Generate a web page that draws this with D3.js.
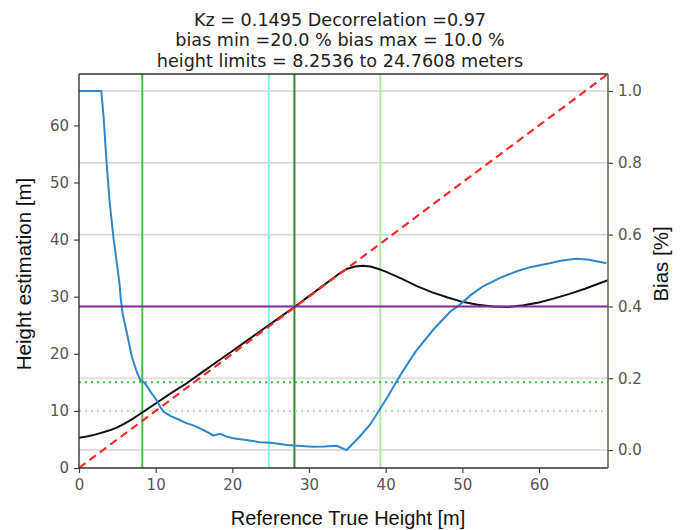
<!DOCTYPE html>
<html>
<head>
<meta charset="utf-8">
<script src="https://cdn.jsdelivr.net/npm/d3@7"></script>
<style>
  html, body { margin: 0; padding: 0; background: #fff; }
  svg { display: block; }
</style>
</head>
<body>
<svg id="chart" width="681" height="530"></svg>
<script>
// Title lines
const titleLines = [
  "Kz = 0.1495 Decorrelation =0.97",
  "bias min =20.0 % bias max = 10.0 %",
  "height limits = 8.2536 to 24.7608 meters"
];

// Ticks
const xTicks = [0, 10, 20, 30, 40, 50, 60];
const yLeftTicks = [0, 10, 20, 30, 40, 50, 60];
const yRightTicks = [0.0, 0.2, 0.4, 0.6, 0.8, 1.0];

// Estimated height vs reference height (left axis, metres)
const heightX = [0, 1, 2, 3, 4, 5, 6, 7, 8, 9, 10, 12, 14, 16, 18, 20, 22, 24, 26, 28, 30, 32, 34, 35, 36, 37, 38, 39, 40, 42, 44, 46, 48, 50, 52, 54, 56, 58, 60, 62, 64, 66, 68, 69];
const heightEst = [5.3, 5.5, 5.8, 6.2, 6.6, 7.1, 7.8, 8.6, 9.5, 10.4, 11.3, 13.1, 14.8, 16.7, 18.6, 20.5, 22.4, 24.3, 26.2, 28.1, 30.1, 32.1, 34.1, 34.9, 35.3, 35.4, 35.3, 34.9, 34.4, 33.2, 31.9, 30.8, 29.9, 29.1, 28.6, 28.3, 28.2, 28.5, 29.0, 29.7, 30.5, 31.4, 32.4, 32.9];

// Bias vs reference height (right axis, fraction)
const biasX = [0, 2.9, 3.2, 3.6, 4.0, 4.5, 5.0, 5.3, 5.45, 5.7, 6.0, 6.4, 6.9, 7.5, 8.0, 8.4, 8.8, 9.4, 10.1, 10.6, 11.0, 11.9, 13, 14, 15, 15.8, 17, 17.5, 18.4, 19.2, 20.1, 22, 23.6, 25, 27.1, 28.5, 30.5, 32, 33.6, 34.9, 36.6, 38, 39.2, 40.3, 41.4, 42.7, 44, 46.2, 48.4, 49.7, 51, 52.7, 55, 57.1, 59, 61.4, 63, 64.9, 66.5, 68.8];
const biasVal = [1.0, 1.0, 0.93, 0.80, 0.69, 0.59, 0.51, 0.46, 0.42, 0.38, 0.35, 0.31, 0.26, 0.22, 0.195, 0.19, 0.18, 0.16, 0.14, 0.12, 0.107, 0.095, 0.085, 0.075, 0.068, 0.06, 0.047, 0.04, 0.045, 0.038, 0.033, 0.027, 0.022, 0.02, 0.014, 0.012, 0.009, 0.01, 0.012, 0.0, 0.037, 0.072, 0.112, 0.15, 0.19, 0.235, 0.277, 0.335, 0.385, 0.405, 0.43, 0.456, 0.48, 0.498, 0.51, 0.52, 0.528, 0.533, 0.53, 0.52];

// Reference lines
const vLines = [
  { x: 8.2536, color: "#4cbb4c" },
  { x: 24.7608, color: "#7ff5f0" },
  { x: 28.1, color: "#2e8b2e" },
  { x: 39.3, color: "#a8f0a0" }
];
const hDotted = [
  { y: 15, color: "#33c233" },
  { y: 10, color: "#a4ee9c" }
];
const purpleBias = 0.4;
const xMax = 69;
const yMax = 69;

const svg = d3.select("#chart");
const margin = { left: 79, right: 73, top: 74, bottom: 62 };
const W = 681, H = 530;
const pw = W - margin.left - margin.right;
const ph = H - margin.top - margin.bottom;

const x = d3.scaleLinear().domain([0, xMax]).range([margin.left, margin.left + pw]);
const yL = d3.scaleLinear().domain([0, yMax]).range([margin.top + ph, margin.top]);
const yR = d3.scaleLinear().domain([-0.05, 1.0472]).range([margin.top + ph, margin.top]);

svg.append("defs").append("clipPath").attr("id", "plotclip")
  .append("rect").attr("x", margin.left).attr("y", margin.top).attr("width", pw).attr("height", ph);

const plot = svg.append("g").attr("clip-path", "url(#plotclip)");

// grid from the bias axis
plot.selectAll(".grid").data(yRightTicks).enter().append("line")
  .attr("x1", margin.left).attr("x2", margin.left + pw)
  .attr("y1", d => yR(d)).attr("y2", d => yR(d))
  .attr("stroke", "#d6d6d6").attr("stroke-width", 1.6);

// vertical marker lines
plot.selectAll(".vl").data(vLines).enter().append("line")
  .attr("x1", d => x(d.x)).attr("x2", d => x(d.x))
  .attr("y1", margin.top).attr("y2", margin.top + ph)
  .attr("stroke", d => d.color).attr("stroke-width", 2);

// dotted horizontal limits
plot.selectAll(".hd").data(hDotted).enter().append("line")
  .attr("x1", margin.left).attr("x2", margin.left + pw)
  .attr("y1", d => yL(d.y)).attr("y2", d => yL(d.y))
  .attr("stroke", d => d.color).attr("stroke-width", 2)
  .attr("stroke-dasharray", "2,4");

// estimated height curve
const lineL = d3.line().x(d => x(d[0])).y(d => yL(d[1]));
plot.append("path").datum(heightX.map((v, i) => [v, heightEst[i]]))
  .attr("d", lineL).attr("fill", "none")
  .attr("stroke", "#111").attr("stroke-width", 2);

// 1:1 reference
plot.append("path").datum([[0, 0], [xMax, xMax]])
  .attr("d", lineL).attr("fill", "none")
  .attr("stroke", "#ff2a2a").attr("stroke-width", 2.2)
  .attr("stroke-dasharray", "8,5");

// bias curve
const lineR = d3.line().x(d => x(d[0])).y(d => yR(d[1]));
plot.append("path").datum(biasX.map((v, i) => [v, biasVal[i]]))
  .attr("d", lineR).attr("fill", "none")
  .attr("stroke", "#2f86cc").attr("stroke-width", 2);

// bias threshold
plot.append("line")
  .attr("x1", margin.left).attr("x2", margin.left + pw)
  .attr("y1", yR(purpleBias)).attr("y2", yR(purpleBias))
  .attr("stroke", "#8a2a9a").attr("stroke-width", 2);

// axes
const tickFont = "DejaVu Sans, sans-serif";
const gx = svg.append("g").attr("transform", `translate(0,${margin.top + ph})`)
  .call(d3.axisBottom(x).tickValues(xTicks).tickFormat(d3.format("d")).tickSize(5).tickPadding(6));
const gl = svg.append("g").attr("transform", `translate(${margin.left},0)`)
  .call(d3.axisLeft(yL).tickValues(yLeftTicks).tickFormat(d3.format("d")).tickSize(5).tickPadding(5));
const gr = svg.append("g").attr("transform", `translate(${margin.left + pw},0)`)
  .call(d3.axisRight(yR).tickValues(yRightTicks).tickFormat(d3.format(".1f")).tickSize(5).tickPadding(5));

[gx, gl, gr].forEach(g => {
  g.select(".domain").remove();
  g.selectAll(".tick line").attr("stroke", "#444").attr("stroke-width", 1.2);
  g.selectAll(".tick text").attr("fill", "#555").style("font-family", tickFont).style("font-size", "15px");
});

// frame
svg.append("line").attr("x1", margin.left).attr("x2", margin.left + pw)
  .attr("y1", margin.top).attr("y2", margin.top).attr("stroke", "#333").attr("stroke-width", 1.4);
svg.append("line").attr("x1", margin.left).attr("x2", margin.left + pw)
  .attr("y1", margin.top + ph).attr("y2", margin.top + ph).attr("stroke", "#333").attr("stroke-width", 1.4);
svg.append("line").attr("x1", margin.left).attr("x2", margin.left)
  .attr("y1", margin.top).attr("y2", margin.top + ph).attr("stroke", "#333").attr("stroke-width", 1.4);
svg.append("line").attr("x1", margin.left + pw).attr("x2", margin.left + pw)
  .attr("y1", margin.top).attr("y2", margin.top + ph).attr("stroke", "#6f6f45").attr("stroke-width", 1.6);

// title
const labelFont = "Liberation Sans, Arial, sans-serif";
svg.append("g").selectAll("text").data(titleLines).enter().append("text")
  .attr("x", 340).attr("y", (d, i) => 26 + i * 20.4)
  .attr("text-anchor", "middle").attr("fill", "#222")
  .style("font-family", tickFont).style("font-size", "17.6px")
  .text(d => d);

// axis labels
svg.append("text").attr("x", 348).attr("y", 525)
  .attr("text-anchor", "middle").attr("fill", "#111")
  .style("font-family", labelFont).style("font-size", "20px")
  .text("Reference True Height [m]");
svg.append("text").attr("transform", `translate(31,274) rotate(-90)`)
  .attr("text-anchor", "middle").attr("fill", "#111")
  .style("font-family", labelFont).style("font-size", "20.5px")
  .text("Height estimation [m]");
svg.append("text").attr("transform", `translate(668,264) rotate(-90)`)
  .attr("text-anchor", "middle").attr("fill", "#111")
  .style("font-family", labelFont).style("font-size", "20.5px")
  .text("Bias [%]");
</script>
</body>
</html>
